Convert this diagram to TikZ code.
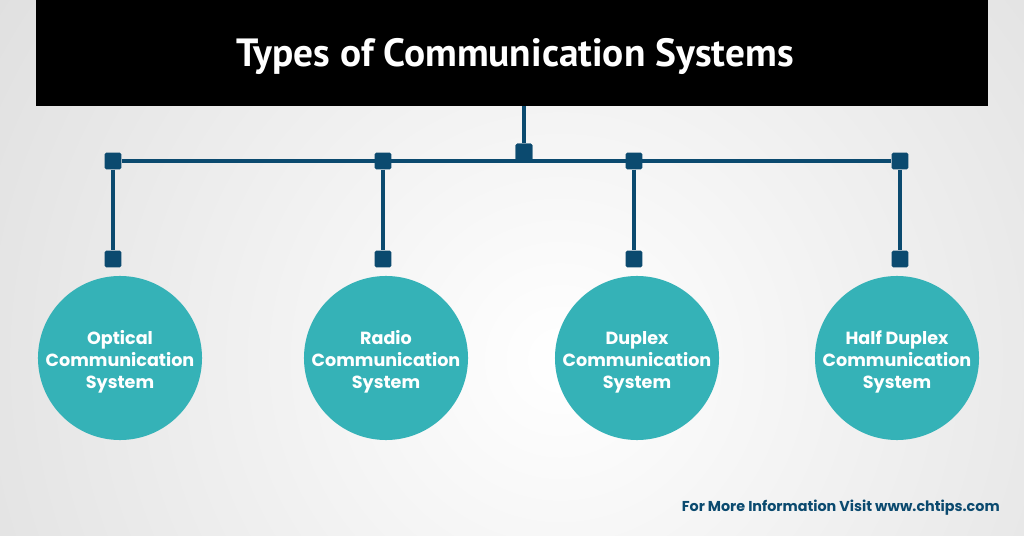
\documentclass[tikz,border=0pt]{standalone}
\usepackage{fontspec}
\setmainfont{Poppins}
\newfontfamily\titlefont{PT Sans}
\definecolor{linkblue}{HTML}{0B4A6F}
\definecolor{tealfill}{HTML}{35B2B7}
\tikzset{
  banner/.style={fill=black, minimum width=23.8cm, minimum height=2.65cm, inner sep=0pt},
  headline/.style={text=white, inner sep=0pt, font=\titlefont\bfseries\fontsize{28}{32}\selectfont},
  joint/.style={fill=linkblue, minimum size=0.42cm, inner sep=0pt, rounded corners=1.2pt},
  link/.style={draw=linkblue, line width=3.5pt},
  bubble/.style={circle, fill=tealfill, minimum size=4.1cm, inner sep=0pt},
  caption/.style={text=white, align=center, inner sep=0pt, font=\bfseries\fontsize{12.5}{15.6}\selectfont}
}
\begin{document}
\begin{tikzpicture}[x=0.025cm, y=-0.025cm]
	\useasboundingbox (0,0) rectangle (1024,536);
	\begin{scope}
		\clip (0,0) rectangle (1024,536);
		\shade[inner color=white, outer color=gray!40] (560,360) circle (27.5cm);
	\end{scope}
	\node[banner] (banner) at (512,53) {};
	\node[headline] (title) at (515,56) {Types of Communication Systems};
	\node[joint] (hub) at (524,152) {};
	\draw[link] (banner.south -| hub) -- (hub);
	\foreach \name/\tx/\cx/\lbl in {opt/113/120/{Optical\\Communication\\System},
		radio/383/386/{Radio\\Communication\\System},
		duplex/634/637/{Duplex\\Communication\\System},
		half/900/897/{Half Duplex\\Communication\\System}} {
		\node[joint] (\name-top) at (\tx,161) {};
		\node[joint] (\name-end) at (\tx,259) {};
		\node[bubble] (\name) at (\cx,358) {};
		\node[caption] (\name-text) at (\cx,362) {\lbl};
		\draw[link] (\name-top) -- (\name-end);
	}
	\draw[link] (opt-top) -- (half-top);
	\node[joint] at (hub) {};
	\node[anchor=east, inner sep=0pt, text=linkblue, font=\bfseries\fontsize{10.2}{12}\selectfont] (info) at (1000,508)
		{For More Information Visit www.chtips.com};
\end{tikzpicture}
\end{document}
